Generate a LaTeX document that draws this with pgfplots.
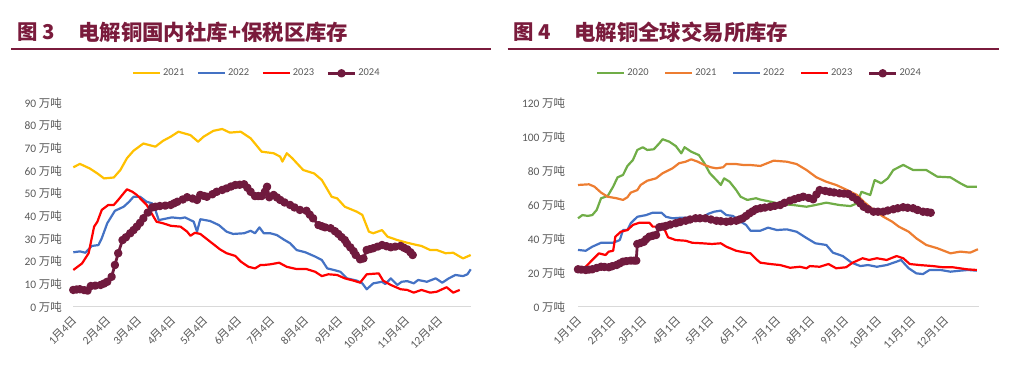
\documentclass[border=0pt]{standalone}
\usepackage{fontspec}
\usepackage{pgfplots}
\pgfplotsset{compat=1.18}
\setmainfont{Carlito}
\newfontfamily\cjk{Noto Sans CJK SC}
\definecolor{c21}{HTML}{FFC000}
\definecolor{c22}{HTML}{4472C4}
\definecolor{c23}{HTML}{FF0000}
\definecolor{c24}{HTML}{701A3E}
\definecolor{c20}{HTML}{70AD47}
\definecolor{c21b}{HTML}{ED7D31}
\definecolor{ttl}{HTML}{7A1B3C}
\definecolor{lbl}{HTML}{595959}
\definecolor{axln}{HTML}{D9D9D9}
\newcommand{\wt}{{\cjk 万吨}}
\newcommand{\yue}{{\cjk 月}}
\newcommand{\ri}{{\cjk 日}}
\pgfplotsset{
  base/.style={
    scale only axis, axis lines*=left,
    y axis line style={draw=none},
    x axis line style={draw=axln, line width=1bp},
    major tick length=0pt, xmin=0, ymin=0, clip=false,
    tick label style={text=lbl},
    yticklabel style={font=\fontsize{11.5}{13}\selectfont, xshift=-8bp},
    xticklabel style={font=\fontsize{11.5}{13}\selectfont, yshift=-9bp, xshift=4bp, rotate=45, anchor=east},
    xtick={0,31,59,90,120,151,181,212,243,273,304,334},
    every axis plot/.append style={line width=2.2bp, line join=round},
    legend columns=-1,
    legend style={draw=none, fill=none, anchor=west, inner sep=0pt,
      font=\fontsize{10.5}{12}\selectfont, text=lbl},
    legend image code/.code={\draw[mark repeat=2,mark phase=2,#1] plot coordinates {(0bp,0bp) (13.5bp,0bp) (27bp,0bp)};},
  },
  s24/.style={color=c24, line width=2.8bp, mark=*, mark size=2.8bp, mark options={solid}},
}
\begin{document}
\begin{tikzpicture}
\path[use as bounding box] (0,0) rectangle (1013bp,368bp);
% titles
\node[anchor=west, inner sep=0pt, text=ttl, font=\cjk\bfseries\fontsize{20.5}{22}\selectfont] at (17bp,336bp) {图 3};
\node[anchor=west, inner sep=0pt, text=ttl, font=\cjk\bfseries\fontsize{21.5}{23}\selectfont] at (78bp,336bp) {电解铜国内社库+保税区库存};
\draw[ttl, line width=2bp] (11bp,319bp) -- (491bp,319bp);
\node[anchor=west, inner sep=0pt, text=ttl, font=\cjk\bfseries\fontsize{20.5}{22}\selectfont] at (513bp,336bp) {图 4};
\node[anchor=west, inner sep=0pt, text=ttl, font=\cjk\bfseries\fontsize{21.5}{23}\selectfont] at (574bp,336bp) {电解铜全球交易所库存};
\draw[ttl, line width=2bp] (507.7bp,319bp) -- (998.7bp,319bp);

% left chart
\begin{axis}[base, at={(73.3bp,61.3bp)}, anchor=south west,
  width=397.4bp, height=204bp, xmax=363, ymax=90,
  ytick={0,10,...,90},
  yticklabels={0 \wt,10 \wt,20 \wt,30 \wt,40 \wt,50 \wt,60 \wt,70 \wt,80 \wt,90 \wt},
  xticklabels={1\yue4\ri,2\yue4\ri,3\yue4\ri,4\yue4\ri,5\yue4\ri,6\yue4\ri,7\yue4\ri,8\yue4\ri,9\yue4\ri,10\yue4\ri,11\yue4\ri,12\yue4\ri},
  legend style={at={(0.147,1.144)}, /tikz/every even column/.append style={column sep=10.5bp}}]
\addplot[c21] coordinates {(0,61.5)(6,63)(15,61)(22,58.8)(28,56.6)(37,57)(43,60.3)(49,65.5)(55,68.8)(64,72)(75,70.6)(82,73.2)(89,75)(96,77.2)(107,75.7)(114,72.8)(119,75)(128,77.6)(136,78.4)(143,76.8)(153,77.2)(162,74.3)(172,68.4)(183,67.7)(189,66.2)(191,64)(195,67.7)(200,65.5)(210,60.3)(220,58.8)(227,55.9)(236,48.5)(241,47.8)(248,44.1)(259,41.9)(264,40.5)(270,33.1)(274,32.4)(282,33.8)(287,30.9)(296,29.4)(305,28.2)(314,27.2)(318,26.8)(326,25)(332,25)(340,23.6)(347,23.8)(356,21.3)(363,22.8)};
\addlegendentry{2021}
\addplot[c22] coordinates {(0,24)(6,24.4)(11,23.8)(17,26.8)(23,27.2)(26,30.2)(31,36.8)(38,42.3)(46,44.1)(51,46.3)(55,48.5)(61,48.5)(67,46.3)(72,45.6)(75,42.7)(78,38.2)(82,38.6)(90,39.4)(98,39)(102,39.4)(110,37.5)(113,33.1)(116,38.6)(125,37.8)(133,36)(140,33.1)(146,32.1)(156,32.4)(162,33.5)(166,32.4)(170,35)(174,32.4)(180,32.4)(186,31.6)(192,29.7)(198,28)(204,25)(212,24)(221,22.1)(227,20.6)(232,16.9)(238,16.2)(244,15.4)(250,12.5)(259,11.5)(264,10.3)(268,7.7)(274,10.3)(282,11)(285,10)(290,12.5)(296,9.6)(300,11)(305,11.3)(311,10.3)(315,11.8)(323,11)(331,12.5)(337,10.6)(343,12.5)(349,14)(356,13.5)(360,14.3)(363,16.5)};
\addlegendentry{2022}
\addplot[c23] coordinates {(0,16.2)(8,19.1)(14,23.6)(19,35.3)(22,37.5)(26,42.7)(32,44.9)(37,44.9)(41,47.1)(49,51.8)(54,50.7)(58,49.3)(67,44.9)(76,37.5)(82,36.8)(89,35.7)(98,35.3)(104,33.1)(107,31.3)(111,32.6)(116,32.1)(125,28.7)(134,25.3)(140,23.6)(148,22.4)(153,19.9)(160,17.6)(166,16.9)(171,18.4)(174,18.4)(180,18.7)(188,19.4)(195,17.6)(204,16.6)(213,16.6)(221,15.4)(227,13.5)(233,14.3)(241,14)(248,12.5)(256,11.5)(262,10.6)(268,14.3)(279,14.7)(283,11.5)(290,9.6)(299,7.7)(305,7.4)(311,6.2)(318,7.4)(326,6.2)(332,6.6)(341,8.6)(347,6.2)(353,7.4)};
\addlegendentry{2023}
\addplot[s24] coordinates {(0,7.4)(3,7.6)(6,7.7)(10,7.3)(13,7.1)(16,9.1)(20,9.3)(25,9.6)(28,10.2)(31,11)(35,13.2)(38,18.4)(41,23.6)(45,29.4)(48,30.6)(52,32.4)(55,33.8)(58,35.3)(61,37)(64,39)(68,41.5)(72,43.8)(75,44.1)(79,44.4)(84,44.6)(89,44.9)(92,45.6)(95,46.3)(100,47.3)(104,48.3)(109,47.7)(113,47.1)(116,49.3)(119,48.9)(122,48.5)(127,49.6)(131,50.7)(136,51.5)(140,52.2)(144,53)(148,53.7)(152,53.8)(156,54)(159,52.5)(162,50.7)(166,48.8)(169,48.8)(172,48.8)(175,50.7)(177,52.9)(179,48.3)(183,49.3)(186,48.2)(189,47.1)(193,46)(198,44.9)(202,43.8)(207,42.7)(213,42.3)(216,40.6)(219,39)(224,36)(227,35.5)(230,35)(235,34.6)(239,33.3)(242,32.1)(245,30.7)(248,29.4)(250,27.8)(253,26.2)(256,24.5)(258,22.8)(262,20.9)(265,21.3)(268,25)(271,25.4)(274,25.8)(278,26.5)(282,27.2)(286,26.7)(290,26.2)(294,26.5)(299,26.8)(302,26)(305,25.3)(308,24)(310,22.8)};
\addlegendentry{2024}
\end{axis}

% right chart
\begin{axis}[base, at={(578bp,61.3bp)}, anchor=south west,
  width=401bp, height=204bp, xmax=365, ymax=120,
  yticklabel style={xshift=-1.5bp},
  ytick={0,20,...,120},
  yticklabels={0 \wt,20 \wt,40 \wt,60 \wt,80 \wt,100 \wt,120 \wt},
  xticklabels={1\yue1\ri,2\yue1\ri,3\yue1\ri,4\yue1\ri,5\yue1\ri,6\yue1\ri,7\yue1\ri,8\yue1\ri,9\yue1\ri,10\yue1\ri,11\yue1\ri,12\yue1\ri},
  legend style={at={(0.045,1.144)}, /tikz/every even column/.append style={column sep=13.5bp}}]
\addplot[c20] coordinates {(0,52)(4,53.9)(9,53.4)(13,53.9)(17,56.9)(21,63.8)(27,65.1)(32,70.6)(36,76.1)(41,77.5)(45,82.8)(50,86.3)(54,92.2)(59,93.8)(63,92.2)(69,92.6)(74,96.1)(77,98.5)(83,97.1)(89,94.5)(94,90.2)(97,93.8)(103,91.2)(110,89.2)(115,84.4)(120,78.5)(126,74.5)(130,71.6)(133,75.5)(138,73.5)(144,68.6)(148,64.7)(154,62.8)(162,63.8)(166,63)(175,61.8)(184,60.4)(196,59.8)(208,58.8)(216,59.8)(226,61.2)(238,59.8)(248,59.2)(254,60.8)(258,67.6)(266,65.7)(270,74.5)(276,72.6)(282,75.5)(287,80.4)(296,83.4)(305,80.4)(317,80.4)(327,76.5)(339,76.1)(348,72.6)(354,70.6)(363,70.6)};
\addlegendentry{2020}
\addplot[c21b] coordinates {(0,71.6)(10,72)(15,70.6)(21,67.1)(27,64.7)(35,63.8)(41,62.8)(45,64.4)(48,67.1)(54,68.6)(57,71.6)(63,74.1)(71,75.5)(77,78.5)(86,81.4)(92,84.4)(98,85.3)(103,86.7)(109,85.3)(115,83.4)(121,82)(126,81.4)(132,82)(135,83.9)(144,83.9)(150,83.4)(156,83.4)(166,82.8)(178,85.9)(190,85.3)(199,83.9)(208,80.4)(217,76.1)(226,73.5)(235,71.6)(245,68.6)(254,65.7)(260,61.8)(269,56.9)(278,52.9)(286,50)(292,47.1)(301,44.1)(308,40.2)(317,36.3)(327,34.4)(339,31.4)(348,32.4)(357,31.8)(364,33.8)};
\addlegendentry{2021}
\addplot[c22] coordinates {(0,33.4)(7,32.9)(13,35.3)(21,37.6)(32,37.6)(38,39.2)(41,45.1)(45,45.1)(48,49.1)(54,52.9)(62,53.9)(68,55.3)(76,55.3)(80,52.9)(86,52)(95,52.4)(106,52)(114,52)(118,54.5)(124,55.9)(130,56.5)(135,53.9)(141,53.4)(148,50)(153,48.1)(157,44.7)(166,44.7)(173,46.5)(181,45.1)(190,45.5)(199,44.1)(207,40.8)(216,37.3)(226,36.3)(232,31.8)(241,29.8)(249,25.9)(257,23.9)(264,24.5)(272,23.5)(281,24.5)(290,26.5)(294,27.5)(301,22.6)(308,19.6)(314,19.2)(320,21.6)(330,21.6)(339,20.6)(348,21.2)(355,21.6)(363,21.2)};
\addlegendentry{2022}
\addplot[c23] coordinates {(0,21.6)(7,23.5)(13,27.5)(19,31.4)(25,30.4)(28,32.4)(32,32.9)(34,41.2)(39,44.1)(45,45.1)(50,48.1)(56,49.4)(65,49.4)(68,47.1)(74,47.1)(79,45.1)(82,40.8)(89,39.2)(98,38.8)(104,37.6)(113,37.3)(122,36.9)(130,37.3)(135,35.3)(144,32.9)(151,32)(157,31.4)(163,27.5)(166,25.9)(175,25.1)(184,24.5)(193,22.9)(202,23.5)(208,22.6)(211,23.9)(220,23.5)(228,25.1)(235,22.6)(244,23.2)(250,25.9)(259,28.5)(265,27.5)(272,28.5)(281,27.5)(290,29.8)(296,28.5)(302,25.1)(311,24.5)(323,23.9)(332,23.2)(341,23.2)(354,22)(363,21.6)};
\addlegendentry{2023}
\addplot[s24] coordinates {(0,22)(3,21.8)(7,21.6)(10,21.8)(13,22)(17,22.8)(21,23.5)(24,23.4)(28,23.2)(31,23.8)(35,24.5)(38,25.5)(41,26.5)(44,26.8)(48,27.1)(51,27.1)(53,27.1)(54,36.9)(57,37.5)(60,38.2)(62,39.7)(65,41.2)(68,41.7)(71,42.2)(74,46.7)(77,47.1)(80,47.5)(84,48.3)(89,49.1)(93,49.8)(98,50.6)(102,51.3)(107,52)(111,52)(116,52)(121,51.3)(126,50.6)(130,50.3)(135,50)(139,50.3)(144,50.6)(147,51.3)(150,52)(153,53.4)(156,54.9)(159,56.1)(162,57.3)(166,57.9)(170,58.3)(175,58.8)(179,59.3)(184,59.8)(188,61.1)(193,62.4)(197,63.2)(201,64)(205,64.7)(210,64)(214,63.2)(217,66)(220,68.6)(225,68.1)(229,67.6)(233,67.2)(238,66.7)(242,66.5)(246,66.3)(250,64.5)(254,62.8)(257,60.8)(260,58.8)(264,57.3)(269,55.9)(273,55.9)(278,55.9)(282,56.6)(287,57.3)(291,57.9)(296,58.5)(300,58.2)(305,57.9)(309,56.9)(314,55.9)(318,55.6)(321,55.3)};
\addlegendentry{2024}
\end{axis}
\end{tikzpicture}
\end{document}
